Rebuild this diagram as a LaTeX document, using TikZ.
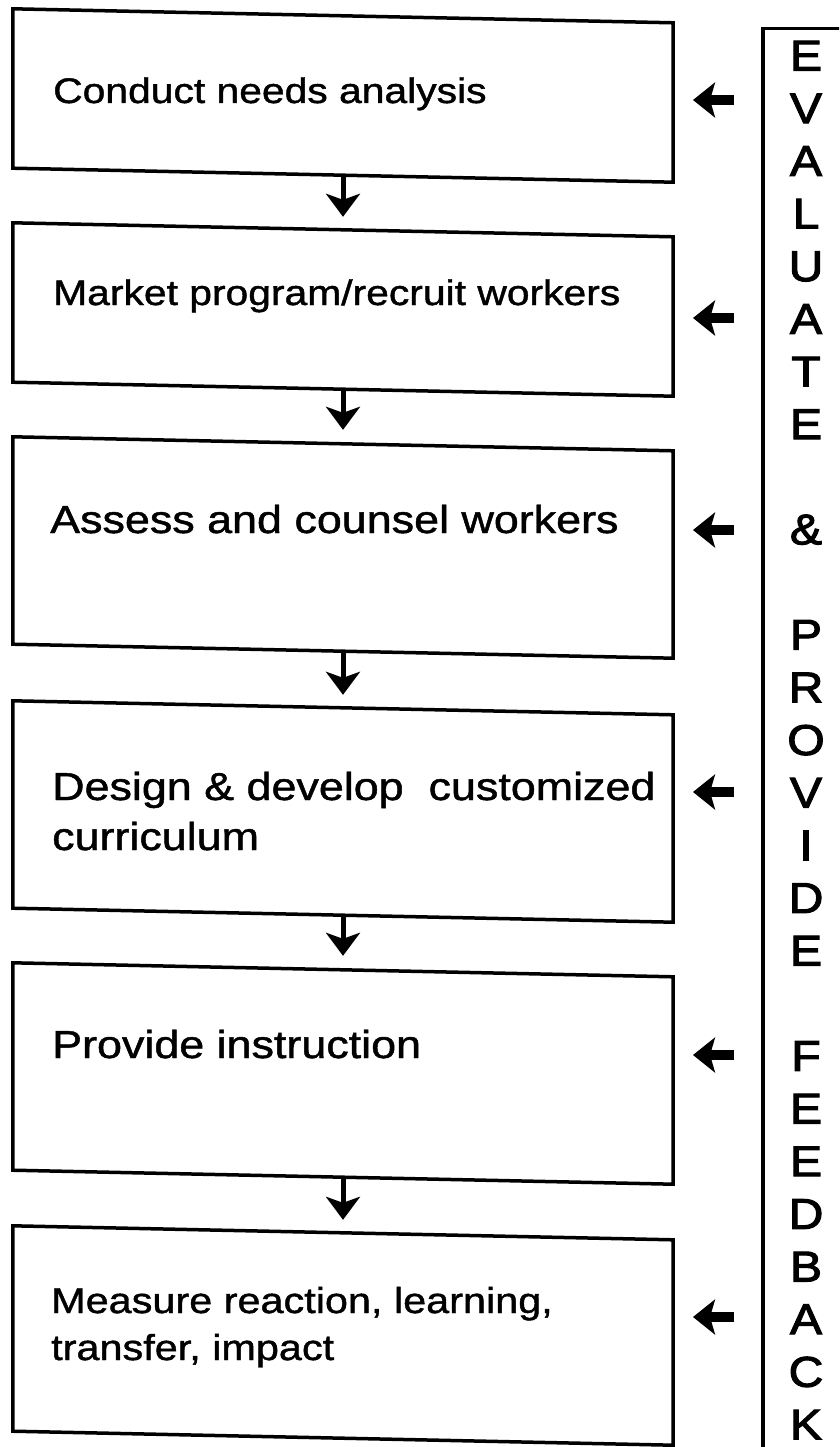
\documentclass[tikz,border=0pt]{standalone}
\usepackage{fontspec}
\setmainfont{Liberation Sans}
\newfontfamily\stepfont[FakeStretch=1.15,FakeBold=1.2]{Liberation Sans}
\newfontfamily\letterfont[FakeStretch=1.12,FakeBold=2.5]{Liberation Sans}
\usetikzlibrary{arrows.meta,calc}
\begin{document}
\begin{tikzpicture}[x=1pt,y=-1pt,
  frame/.style={line width=3.5pt, line join=miter},
  stepbox/.style={minimum width=660pt, minimum height=#1, inner sep=0pt, draw=none},
  steptext/.style={anchor=base west, inner sep=0pt, font=\stepfont\fontsize{#1}{#1}\selectfont},
  downarr/.style={line width=5pt, -{Stealth[length=23pt,width=34pt,inset=6pt]}},
  backarr/.style={line width=10pt, -{Stealth[length=22pt,width=35pt,inset=5pt]}},
  letter/.style={anchor=base, inner sep=0pt, font=\letterfont\fontsize{43}{43}\selectfont}
]
\fill[white] (0,0) rectangle (839,1447);
\useasboundingbox (0,0) rectangle (839,1447);

% step boxes (frames are drawn slightly tilted below)
\node[stepbox=159pt] (b1) at (343,95.5) {};
\node[stepbox=159pt] (b2) at (343,309.5) {};
\node[stepbox=207pt] (b3) at (343,547.5) {};
\node[stepbox=207pt] (b4) at (343,811.5) {};
\node[stepbox=207pt] (b5) at (343,1073.5) {};
\node[stepbox=205pt] (b6) at (343,1335.5) {};

\foreach \b in {b1,b2,b3,b4,b5,b6}
  \draw[frame] ($(\b.north west)+(0,-7)$) -- ($(\b.north east)+(0,7)$)
    -- ($(\b.south east)+(0,7)$) -- ($(\b.south west)+(0,-7)$) -- cycle;

% step labels
\node[steptext=35.5] (t1) at (53,103) {Conduct needs analysis};
\node[steptext=35.5] (t2) at (53,305) {Market program/recruit workers};
\node[steptext=39] (t3) at (50,533) {Assess and counsel workers};
\node[steptext=39] (t4) at (52,800)
  {\vtop{\baselineskip=50pt\hbox{Design \& develop\ \ customized}\hbox{curriculum}}};
\node[steptext=39] (t5) at (52,1058) {Provide instruction};
\node[steptext=36] (t6) at (51,1313)
  {\vtop{\baselineskip=47pt\hbox{Measure reaction, learning,}\hbox{transfer, impact}}};

% flow between steps
\draw[downarr] (b1.south) -- ($(b2.north)+(0,-13)$);
\draw[downarr] (b2.south) -- ($(b3.north)+(0,-14)$);
\draw[downarr] (b3.south) -- ($(b4.north)+(0,-13)$);
\draw[downarr] (b4.south) -- ($(b5.north)+(0,-14)$);
\draw[downarr] (b5.south) -- ($(b6.north)+(0,-13)$);

% feedback column
\begin{scope}
  \clip (0,0) rectangle (839,1447);
  \node[draw, frame, anchor=north west, minimum width=150pt, minimum height=1500pt] (fb) at (761,27) {};
\end{scope}
\foreach \ch [count=\i from 0] in {E,V,A,L,U,A,T,E,,\&,,P,R,O,V,I,D,E,,F,E,E,D,B,A,C,K}
  \node[letter] (fl\i) at (806,70.5+52.65*\i) {\ch};

% feedback arrows into each step
\foreach \y [count=\k] in {100,318,530,792,1055,1317}{
  \coordinate (e\k) at (734,\y);
  \coordinate (f\k) at (693,\y);
  \draw[backarr] (e\k) -- (f\k);
}
\end{tikzpicture}
\end{document}
